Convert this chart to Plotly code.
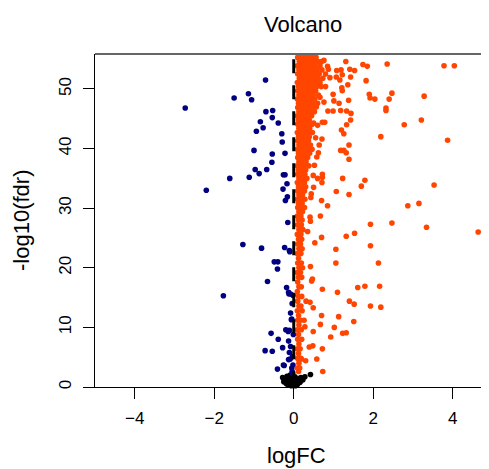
import plotly.graph_objects as go

# ---------------- data ----------------
down_x = [-2.73, -2.20, -1.77, -1.61, -1.50, -1.28, -1.14, -1.12, -1.06, -1.00, -0.97, -0.94,
          -0.87, -0.84, -0.81, -0.77, -0.71, -0.70, -0.68, -0.66, -0.72, -0.57, -0.54, -0.54,
          -0.53, -0.54, -0.55, -0.49, -0.40, -0.41, -0.39, -0.39, -0.41, -0.30, -0.29, -0.27,
          -0.26, -0.22, -0.22, -0.23, -0.21, -0.17, -0.16, -0.15, -0.11, -0.18, -0.13, -0.12,
          -0.08, -0.06, -0.20, -0.14, -0.13, -0.11, -0.08, -0.28, -0.24, -0.13, -0.05, -0.03,
          -0.03, -0.02, -0.04, -0.01, -0.10, -0.08, -0.05, -0.11, -0.09, -0.26, -0.02, -0.04]
down_y = [46.8, 33.0, 15.3, 35.0, 48.5, 23.9, 49.2, 35.2, 48.2, 39.7, 36.5, 42.9,
          35.8, 44.5, 23.3, 43.5, 51.5, 46.2, 36.5, 17.7, 6.1, 9.0, 6.0, 45.2,
          46.4, 39.1, 37.7, 21.0, 21.0, 19.8, 44.3, 8.0, 3.0, 42.5, 41.1, 33.2,
          35.6, 35.6, 39.2, 23.4, 31.3, 34.1, 31.9, 27.6, 22.9, 16.7, 15.9, 15.6,
          12.4, 11.3, 9.6, 9.3, 7.7, 5.8, 6.8, 6.6, 3.6, 4.6, 3.2, 5.1,
          2.3, 15.4, 14.0, 8.8, 22.7, 15.6, 11.4, 9.5, 4.7, 3.7, 3.7, 2.6]

ns_x = [-0.28, -0.22, -0.17, -0.12, -0.07, -0.02, 0.03, 0.08, 0.13, 0.18, 0.23, -0.25, -0.19,
        -0.10, -0.04, 0.01, 0.06, 0.11, 0.16, -0.14, -0.06, 0.04, 0.09, 0.28, 0.42, -0.09, 0.00]
ns_y = [1.6, 1.3, 1.8, 1.1, 1.5, 1.2, 1.7, 1.0, 1.4, 1.6, 1.2, 0.9, 0.6,
        0.7, 0.4, 0.5, 0.3, 0.6, 0.8, 0.3, 0.2, 0.2, 0.4, 1.7, 2.1, 2.0, 0.9]

# dense column of up-regulated genes, row by row
band_row_y = [55.3, 54.6, 53.9, 53.2, 52.5, 51.8, 51.1, 50.4, 49.7, 49.0, 48.3, 47.6, 46.9,
              46.2, 45.5, 44.8, 44.1, 43.4, 42.7, 42.0, 41.3, 40.6, 39.9, 39.2, 38.5, 37.8,
              37.1, 36.4, 35.7, 35.0, 34.3, 33.6, 32.9, 32.2, 31.5, 30.8, 30.1, 29.4, 28.7,
              28.0, 27.2, 26.4, 25.6, 24.8, 24.0, 23.2, 22.4, 21.6, 20.8, 20.0, 19.2, 18.4,
              17.6, 16.8, 16.0, 15.2, 14.4, 13.6, 12.8, 12.0, 11.2, 10.4, 9.6, 8.8, 8.0,
              7.2, 6.4, 5.6, 4.8, 4.0, 3.2, 2.6]
band_row_x = [
    [0.10, 0.19, 0.28, 0.37, 0.46, 0.56],
    [0.14, 0.23, 0.32, 0.41, 0.50, 0.61, 0.70],
    [0.09, 0.18, 0.27, 0.36, 0.45, 0.54, 0.66],
    [0.13, 0.22, 0.31, 0.40, 0.49, 0.59, 0.71],
    [0.10, 0.19, 0.28, 0.37, 0.46, 0.55, 0.64, 0.80],
    [0.14, 0.23, 0.32, 0.41, 0.50, 0.61, 0.73],
    [0.09, 0.18, 0.27, 0.36, 0.45, 0.54, 0.66],
    [0.12, 0.21, 0.30, 0.39, 0.48, 0.58, 0.69],
    [0.10, 0.19, 0.28, 0.37, 0.46, 0.55],
    [0.13, 0.22, 0.31, 0.40, 0.49, 0.62],
    [0.09, 0.18, 0.27, 0.36, 0.45, 0.53],
    [0.12, 0.21, 0.30, 0.39, 0.48, 0.60],
    [0.10, 0.19, 0.28, 0.37, 0.46],
    [0.13, 0.22, 0.31, 0.40, 0.52],
    [0.09, 0.18, 0.27, 0.36, 0.45],
    [0.12, 0.21, 0.30, 0.39],
    [0.10, 0.19, 0.28, 0.37, 0.46],
    [0.13, 0.22, 0.31, 0.40],
    [0.09, 0.18, 0.27, 0.36, 0.47],
    [0.12, 0.21, 0.30, 0.39],
    [0.10, 0.19, 0.28, 0.37],
    [0.13, 0.22, 0.31, 0.42],
    [0.09, 0.18, 0.27, 0.36, 0.46],
    [0.12, 0.21, 0.30, 0.40],
    [0.10, 0.19, 0.28, 0.35],
    [0.13, 0.22, 0.31],
    [0.09, 0.18, 0.27, 0.38],
    [0.12, 0.21, 0.30],
    [0.10, 0.19, 0.28],
    [0.13, 0.22, 0.33],
    [0.09, 0.18, 0.27],
    [0.12, 0.21, 0.30],
    [0.10, 0.19, 0.27],
    [0.13, 0.22],
    [0.09, 0.18, 0.28],
    [0.12, 0.21],
    [0.10, 0.19, 0.27],
    [0.13, 0.22],
    [0.09, 0.18],
    [0.12, 0.21],
    [0.10, 0.19],
    [0.13, 0.23],
    [0.09, 0.18],
    [0.12, 0.20],
    [0.10, 0.17],
    [0.13, 0.21],
    [0.09, 0.18],
    [0.12],
    [0.10, 0.19],
    [0.13, 0.22],
    [0.09, 0.17],
    [0.12, 0.20],
    [0.10],
    [0.13, 0.19],
    [0.09],
    [0.12, 0.20],
    [0.10],
    [0.13, 0.18],
    [0.09, 0.21],
    [0.12],
    [0.10, 0.17],
    [0.13],
    [0.09, 0.19],
    [0.12],
    [0.10, 0.20],
    [0.13],
    [0.09, 0.16],
    [0.12],
    [0.10, 0.18],
    [0.13],
    [0.09, 0.15],
    [0.12],
]

# scattered up-regulated genes
up_x = [0.76, 1.31, 1.74, 1.85, 2.35, 3.78, 4.04, 0.85, 0.87, 1.08, 1.19, 1.22, 1.41, 1.53,
        1.43, 1.82, 1.07, 1.16, 1.36, 1.21, 1.22, 0.99, 1.01, 1.90, 1.92, 2.04, 2.47, 2.40,
        3.28, 1.38, 1.14, 0.86, 0.99, 1.18, 1.33, 1.44, 2.32, 2.32, 1.43, 3.21, 2.78, 1.33,
        1.20, 1.26, 2.19, 3.87, 0.72, 0.78, 0.50, 0.60, 0.71, 0.64, 1.39, 1.18, 1.26, 1.32,
        1.39, 1.23, 1.79, 1.70, 3.53, 1.07, 1.39, 3.15, 2.87, 0.72, 0.72, 0.71, 0.49, 0.60,
        0.50, 0.44, 0.43, 0.70, 0.85, 0.67, 0.41,
        0.42, 1.93, 2.47, 3.34, 4.64, 1.53, 1.32, 0.70, 1.93, 1.06, 1.06, 2.13, 0.35, 0.53,
        0.42, 0.45, 0.47, 0.72, 1.10, 1.61, 1.79, 2.16, 1.40, 1.52, 1.93, 2.19, 0.31, 0.41,
        0.49, 0.70, 1.13, 1.51, 0.67, 1.02, 1.23, 1.32, 0.93, 0.49, 0.26, 0.28, 0.72, 0.58,
        0.73, 0.39, 0.48, 0.19, 0.30,
        0.62, 0.80, 0.91, 0.66, 0.57, 0.76, 0.55, 0.58, 0.52, 0.62]
up_y = [54.8, 54.6, 54.1, 53.8, 54.2, 53.9, 53.9, 53.8, 53.3, 53.1, 53.2, 52.4, 53.3, 53.1,
        52.0, 51.4, 52.0, 51.5, 50.7, 50.2, 49.7, 49.1, 48.0, 49.1, 48.5, 48.3, 49.3, 48.3,
        48.8, 48.1, 47.6, 46.3, 46.3, 46.4, 46.3, 45.9, 46.8, 46.4, 44.8, 44.8, 44.0, 44.0,
        43.1, 42.5, 42.0, 41.4, 44.4, 44.4, 44.3, 43.9, 41.6, 40.6, 40.6, 39.7, 39.7, 39.3,
        38.2, 35.0, 34.7, 33.7, 33.9, 32.8, 32.3, 30.8, 30.4, 35.7, 35.2, 34.3, 35.5, 35.0,
        33.5, 32.4, 31.8, 31.3, 30.4, 28.7, 28.5,
        27.8, 27.3, 27.5, 26.8, 26.0, 25.8, 25.3, 25.1, 23.7, 23.1, 20.8, 20.8, 26.1, 24.2,
        20.2, 17.8, 18.1, 16.4, 15.9, 16.7, 16.9, 16.9, 14.4, 13.9, 13.6, 13.4, 14.4, 14.2,
        13.3, 12.0, 11.8, 11.0, 10.5, 10.0, 9.0, 9.1, 8.4, 9.3, 11.2, 10.1, 6.4, 4.7,
        2.6, 6.7, 6.9, 4.7, 4.4,
        50.9, 50.4, 51.9, 48.6, 47.0, 47.8, 41.8, 38.6, 37.2, 39.3]

x_ticks = [-4, -2, 0, 2, 4]
y_ticks = [0, 10, 20, 30, 40, 50]
x_range = [-5, 4.912]
y_range = [0, 55.87]

# ---------------- build ----------------
all_up_x = list(up_x)
all_up_y = list(up_y)
for yy, xs in zip(band_row_y, band_row_x):
    for xx in xs:
        all_up_x.append(xx)
        all_up_y.append(yy)

OFF = 8  # page body margin
W, H = 489 - OFF, 469 - OFF
ML, MR, MT, MB = 95 - OFF, 0, 54 - OFF, 82
FONT = "Liberation Sans, Arial, Helvetica, sans-serif"
PW, PH = W - ML - MR, H - MT - MB


def px_x(p):
    return (p - OFF - ML) / PW


def px_y(p):
    return (H - MB - (p - OFF)) / PH


fig = go.Figure()
mk = dict(size=5.6, line=dict(width=0))
fig.add_trace(go.Scatter(x=ns_x, y=ns_y, mode="markers", cliponaxis=False,
                         marker=dict(color="#000000", **mk), showlegend=False))
fig.add_trace(go.Scatter(x=down_x, y=down_y, mode="markers", cliponaxis=False,
                         marker=dict(color="#000080", **mk), showlegend=False))
fig.add_trace(go.Scatter(x=all_up_x, y=all_up_y, mode="markers", cliponaxis=False,
                         marker=dict(color="#FF4500", **mk), showlegend=False))

# dashed vertical line at logFC = 0
fig.add_shape(type="line", xref="x", yref="y", x0=0, x1=0, y0=55.0, y1=0,
              line=dict(color="black", width=3, dash="14px,12px"), layer="above")
# top frame line
fig.add_shape(type="line", xref="paper", yref="paper", x0=0, x1=1, y0=1, y1=1,
              line=dict(color="#666666", width=2))

fig.update_layout(
    width=W, height=H,
    margin=dict(l=ML, r=MR, t=MT, b=MB, pad=0),
    paper_bgcolor="white", plot_bgcolor="white",
    font=dict(family=FONT, color="black"),
    showlegend=False,
    xaxis=dict(range=x_range, tickvals=x_ticks, ticks="outside", ticklen=11, tickwidth=1,
               tickcolor="black", showline=True, linecolor="black", linewidth=1,
               showgrid=False, zeroline=False, tickfont=dict(size=17),
               ticklabelstandoff=5),
    yaxis=dict(range=y_range, tickvals=y_ticks, ticks="outside", ticklen=11, tickwidth=1,
               tickcolor="black", showline=True, linecolor="black", linewidth=1,
               showgrid=False, zeroline=False, tickfont=dict(size=17), tickangle=-90,
               ticklabelstandoff=5),
    annotations=[
        dict(text="Volcano", xref="paper", yref="paper",
             x=px_x(302.5), y=px_y(24),
             xanchor="center", yanchor="middle", showarrow=False,
             font=dict(size=22, color="black")),
        dict(text="logFC", xref="paper", yref="paper",
             x=px_x(296), y=px_y(455),
             xanchor="center", yanchor="middle", showarrow=False,
             font=dict(size=22, color="black")),
        dict(text="-log10(fdr)", xref="paper", yref="paper",
             x=px_x(21), y=px_y(221),
             xanchor="center", yanchor="middle", showarrow=False, textangle=-90,
             font=dict(size=22, color="black")),
    ],
)

fig.write_html("out.html")
